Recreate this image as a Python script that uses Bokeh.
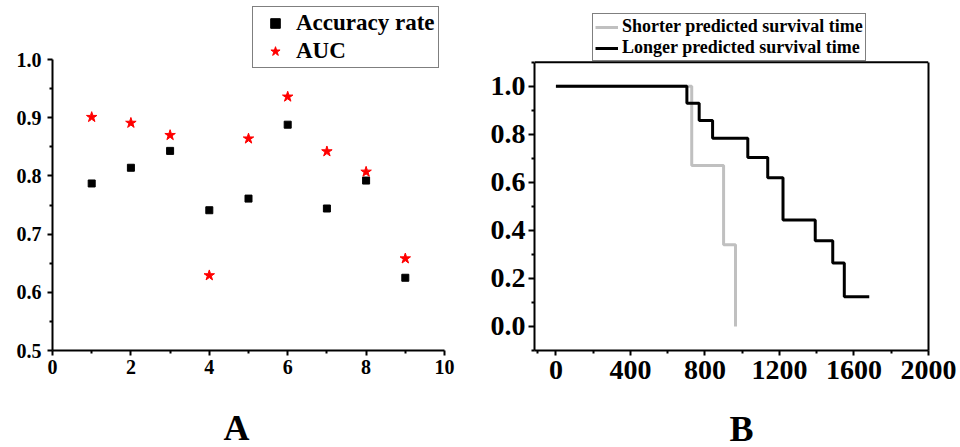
from bokeh.plotting import figure
from bokeh.layouts import row
from bokeh.models import (Legend, LegendItem, FixedTicker, PrintfTickFormatter,
                          Title, Range1d, LinearAxis, Span)
from bokeh.embed import file_html
from bokeh.resources import INLINE

# ---------------- data ----------------
model_idx = [1, 2, 3, 4, 5, 6, 7, 8, 9]
accuracy_rate = [0.787, 0.814, 0.843, 0.741, 0.761, 0.888, 0.744, 0.792, 0.625]
auc_values = [0.901, 0.891, 0.870, 0.629, 0.864, 0.936, 0.842, 0.807, 0.658]

short_time = [0, 729, 900, 964]
short_surv = [1.0, 0.67, 0.34, 0.0]
long_time = [0, 703, 769, 841, 1030, 1137, 1219, 1392, 1486, 1548, 1682]
long_surv = [1.0, 0.929, 0.857, 0.783, 0.703, 0.619, 0.443, 0.357, 0.264, 0.124, 0.124]

a_xticks = [0, 2, 4, 6, 8, 10]
a_xminor = [1, 3, 5, 7, 9]
a_yticks = [0.5, 0.6, 0.7, 0.8, 0.9, 1.0]
a_yminor = [0.55, 0.65, 0.75, 0.85, 0.95]
b_xticks = [0, 400, 800, 1200, 1600, 2000]
b_xminor = [-100, 200, 600, 1000, 1400, 1800]
b_yticks = [0.0, 0.2, 0.4, 0.6, 0.8, 1.0]
b_yminor = [-0.1, 0.1, 0.3, 0.5, 0.7, 0.9, 1.1]

FONT = "Liberation Serif"


def style_axis(ax, size, standoff, tick_out):
    ax.axis_line_width = 2
    ax.axis_line_color = "black"
    ax.major_tick_line_width = 2
    ax.minor_tick_line_width = 2
    ax.major_tick_out = tick_out
    ax.major_tick_in = 0
    ax.minor_tick_out = 3
    ax.minor_tick_in = 0
    ax.major_label_text_font = FONT
    ax.major_label_text_font_style = "bold"
    ax.major_label_text_font_size = size
    ax.major_label_text_color = "black"
    ax.major_label_standoff = standoff


# ---------------- panel A ----------------
pA = figure(width=480, height=490, output_backend="svg", toolbar_location=None,
            x_range=Range1d(0, 10), y_range=Range1d(0.5, 1.0997),
            min_border_left=52, min_border_right=36, min_border_top=1,
            min_border_bottom=140)
pA.outline_line_color = None
pA.xgrid.visible = False
pA.ygrid.visible = False

pA.xaxis.ticker = FixedTicker(ticks=a_xticks, minor_ticks=a_xminor)
pA.yaxis.ticker = FixedTicker(ticks=a_yticks, minor_ticks=a_yminor)
pA.yaxis.formatter = PrintfTickFormatter(format="%.1f")
pA.yaxis.bounds = (0.5, 1.0)
style_axis(pA.xaxis[0], "20px", 4, 5)
style_axis(pA.yaxis[0], "20px", 6, 5)

r_acc = pA.scatter(model_idx, accuracy_rate, marker="square", size=7,
                   color="black")
r_auc = pA.scatter(model_idx, auc_values, marker="star", size=11,
                   color="red")

legA = Legend(items=[LegendItem(label="Accuracy rate", renderers=[r_acc]),
                     LegendItem(label="AUC", renderers=[r_auc])],
              location=(200, 282), margin=0, padding=3, spacing=2,
              glyph_width=38, glyph_height=24, label_height=24,
              label_standoff=2,
              label_text_font=FONT, label_text_font_style="bold",
              label_text_font_size="23px", label_text_color="black",
              border_line_color="black", border_line_width=1.5,
              background_fill_color="white", background_fill_alpha=1)
pA.add_layout(legA)

pA.add_layout(Title(text="A", align="left", offset=171, standoff=58,
                    text_font=FONT, text_font_style="bold",
                    text_font_size="36px", text_color="black"), "below")

# ---------------- panel B ----------------
pB = figure(width=480, height=490, output_backend="svg", toolbar_location=None,
            x_range=Range1d(-115, 2000), y_range=Range1d(-0.1, 1.3524),
            min_border_left=54, min_border_right=32, min_border_top=1,
            min_border_bottom=138)
pB.outline_line_color = None
pB.xgrid.visible = False
pB.ygrid.visible = False

pB.xaxis.ticker = FixedTicker(ticks=b_xticks, minor_ticks=b_xminor)
pB.yaxis.ticker = FixedTicker(ticks=b_yticks, minor_ticks=b_yminor)
pB.yaxis.formatter = PrintfTickFormatter(format="%.1f")
pB.yaxis.bounds = (-0.1, 1.1)
style_axis(pB.xaxis[0], "28px", 5, 5)
style_axis(pB.yaxis[0], "28px", 3, 6)

right_ax = LinearAxis(ticker=FixedTicker(ticks=[]), bounds=(-0.1, 1.1),
                      axis_line_width=2, axis_line_color="black",
                      major_label_text_font_size="0px",
                      major_tick_out=0, minor_tick_out=0)
pB.add_layout(right_ax, "right")
pB.add_layout(Span(location=1.1, dimension="width", line_color="black",
                   line_width=2))

r_short = pB.step(short_time, short_surv, mode="after", line_color="#c0c0c0",
                  line_width=3)
r_long = pB.step(long_time, long_surv, mode="after", line_color="black",
                 line_width=3)

legB = Legend(items=[LegendItem(label="Shorter predicted survival time",
                                renderers=[r_short]),
                     LegendItem(label="Longer predicted survival time",
                                renderers=[r_long])],
              location=(58, 289), margin=0, padding=2,
              spacing=0, glyph_width=23, glyph_height=18, label_height=18,
              label_standoff=4,
              label_text_font=FONT, label_text_font_style="bold",
              label_text_font_size="18px", label_text_color="black",
              border_line_color="black", border_line_width=1.5,
              background_fill_color="white", background_fill_alpha=1)
pB.add_layout(legB)

pB.add_layout(Title(text="B", align="left", offset=195, standoff=50,
                    text_font=FONT, text_font_style="bold",
                    text_font_size="36px", text_color="black"), "below")

layout = row(pA, pB)

open("out.html", "w").write(file_html(layout, INLINE))
